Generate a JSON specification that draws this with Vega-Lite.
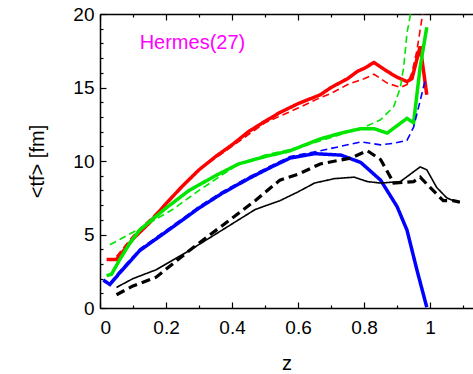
{
  "$schema": "https://vega.github.io/schema/vega-lite/v6.json",
  "width": 373,
  "height": 294,
  "autosize": {"type": "none"},
  "padding": {"left": 100, "top": 14, "right": 0, "bottom": 66},
  "background": "white",
  "config": {
    "view": {"stroke": null},
    "font": "Liberation Sans",
    "axis": {"grid": false, "domainColor": "#000", "domainWidth": 1.5, "tickColor": "#000", "tickWidth": 1.2, "labelColor": "#000", "titleColor": "#000", "labelFont": "Liberation Sans", "titleFont": "Liberation Sans", "labelFontSize": 19, "titleFontSize": 20, "titleFontWeight": "normal"}
  },
  "datasets": {
    "curves": [
      {"s": "red_solid", "z": 0.02, "t": 3.3}, {"s": "red_solid", "z": 0.05, "t": 3.3}, {"s": "red_solid", "z": 0.1, "t": 4.7}, {"s": "red_solid", "z": 0.15, "t": 5.8}, {"s": "red_solid", "z": 0.2, "t": 7.1}, {"s": "red_solid", "z": 0.25, "t": 8.3}, {"s": "red_solid", "z": 0.3, "t": 9.4}, {"s": "red_solid", "z": 0.35, "t": 10.3}, {"s": "red_solid", "z": 0.4, "t": 11.1}, {"s": "red_solid", "z": 0.45, "t": 12.0}, {"s": "red_solid", "z": 0.5, "t": 12.7}, {"s": "red_solid", "z": 0.545, "t": 13.3}, {"s": "red_solid", "z": 0.6, "t": 13.9}, {"s": "red_solid", "z": 0.667, "t": 14.5}, {"s": "red_solid", "z": 0.7, "t": 15.0}, {"s": "red_solid", "z": 0.75, "t": 15.6}, {"s": "red_solid", "z": 0.78, "t": 16.1}, {"s": "red_solid", "z": 0.8, "t": 16.3}, {"s": "red_solid", "z": 0.83, "t": 16.7}, {"s": "red_solid", "z": 0.87, "t": 16.1}, {"s": "red_solid", "z": 0.9, "t": 15.7}, {"s": "red_solid", "z": 0.93, "t": 15.4}, {"s": "red_solid", "z": 0.945, "t": 15.6}, {"s": "red_solid", "z": 0.97, "t": 17.8}, {"s": "red_solid", "z": 0.99, "t": 14.5},
      {"s": "red_dash", "z": 0.05, "t": 3.5}, {"s": "red_dash", "z": 0.1, "t": 4.9}, {"s": "red_dash", "z": 0.2, "t": 7.1}, {"s": "red_dash", "z": 0.3, "t": 9.4}, {"s": "red_dash", "z": 0.4, "t": 11.0}, {"s": "red_dash", "z": 0.5, "t": 12.6}, {"s": "red_dash", "z": 0.6, "t": 13.6}, {"s": "red_dash", "z": 0.667, "t": 14.3}, {"s": "red_dash", "z": 0.7, "t": 14.6}, {"s": "red_dash", "z": 0.75, "t": 15.2}, {"s": "red_dash", "z": 0.8, "t": 15.6}, {"s": "red_dash", "z": 0.83, "t": 15.9}, {"s": "red_dash", "z": 0.87, "t": 15.3}, {"s": "red_dash", "z": 0.91, "t": 15.0}, {"s": "red_dash", "z": 0.93, "t": 15.2}, {"s": "red_dash", "z": 0.945, "t": 16.0}, {"s": "red_dash", "z": 0.96, "t": 17.5}, {"s": "red_dash", "z": 0.976, "t": 19.8}, {"s": "red_dash", "z": 0.985, "t": 21},
      {"s": "green_solid", "z": 0.02, "t": 2.2}, {"s": "green_solid", "z": 0.035, "t": 2.3}, {"s": "green_solid", "z": 0.06, "t": 3.3}, {"s": "green_solid", "z": 0.09, "t": 4.4}, {"s": "green_solid", "z": 0.12, "t": 5.3}, {"s": "green_solid", "z": 0.2, "t": 6.8}, {"s": "green_solid", "z": 0.27, "t": 8.0}, {"s": "green_solid", "z": 0.35, "t": 9.0}, {"s": "green_solid", "z": 0.42, "t": 9.8}, {"s": "green_solid", "z": 0.5, "t": 10.3}, {"s": "green_solid", "z": 0.576, "t": 10.7}, {"s": "green_solid", "z": 0.667, "t": 11.5}, {"s": "green_solid", "z": 0.73, "t": 11.9}, {"s": "green_solid", "z": 0.79, "t": 12.2}, {"s": "green_solid", "z": 0.83, "t": 12.2}, {"s": "green_solid", "z": 0.87, "t": 11.9}, {"s": "green_solid", "z": 0.9, "t": 12.4}, {"s": "green_solid", "z": 0.93, "t": 12.9}, {"s": "green_solid", "z": 0.95, "t": 12.6}, {"s": "green_solid", "z": 0.97, "t": 16.4}, {"s": "green_solid", "z": 0.99, "t": 19.1},
      {"s": "green_dash", "z": 0.03, "t": 4.3}, {"s": "green_dash", "z": 0.12, "t": 5.4}, {"s": "green_dash", "z": 0.22, "t": 6.7}, {"s": "green_dash", "z": 0.3, "t": 8.0}, {"s": "green_dash", "z": 0.42, "t": 9.8}, {"s": "green_dash", "z": 0.5, "t": 10.4}, {"s": "green_dash", "z": 0.6, "t": 10.9}, {"s": "green_dash", "z": 0.7, "t": 11.6}, {"s": "green_dash", "z": 0.8, "t": 12.3}, {"s": "green_dash", "z": 0.85, "t": 12.8}, {"s": "green_dash", "z": 0.89, "t": 13.7}, {"s": "green_dash", "z": 0.91, "t": 15.0}, {"s": "green_dash", "z": 0.92, "t": 16.4}, {"s": "green_dash", "z": 0.93, "t": 18.7}, {"s": "green_dash", "z": 0.945, "t": 20.5},
      {"s": "blue_solid", "z": 0.01, "t": 1.9}, {"s": "blue_solid", "z": 0.03, "t": 1.6}, {"s": "blue_solid", "z": 0.06, "t": 2.4}, {"s": "blue_solid", "z": 0.12, "t": 3.9}, {"s": "blue_solid", "z": 0.22, "t": 5.5}, {"s": "blue_solid", "z": 0.3, "t": 6.8}, {"s": "blue_solid", "z": 0.37, "t": 7.8}, {"s": "blue_solid", "z": 0.45, "t": 8.8}, {"s": "blue_solid", "z": 0.52, "t": 9.6}, {"s": "blue_solid", "z": 0.576, "t": 10.2}, {"s": "blue_solid", "z": 0.65, "t": 10.5}, {"s": "blue_solid", "z": 0.73, "t": 10.4}, {"s": "blue_solid", "z": 0.79, "t": 9.9}, {"s": "blue_solid", "z": 0.85, "t": 8.7}, {"s": "blue_solid", "z": 0.9, "t": 6.9}, {"s": "blue_solid", "z": 0.93, "t": 5.3}, {"s": "blue_solid", "z": 0.96, "t": 2.6}, {"s": "blue_solid", "z": 0.99, "t": 0.05},
      {"s": "blue_dash", "z": 0.03, "t": 1.7}, {"s": "blue_dash", "z": 0.06, "t": 2.5}, {"s": "blue_dash", "z": 0.12, "t": 4.0}, {"s": "blue_dash", "z": 0.22, "t": 5.6}, {"s": "blue_dash", "z": 0.3, "t": 6.9}, {"s": "blue_dash", "z": 0.37, "t": 7.9}, {"s": "blue_dash", "z": 0.45, "t": 8.9}, {"s": "blue_dash", "z": 0.52, "t": 9.7}, {"s": "blue_dash", "z": 0.576, "t": 10.3}, {"s": "blue_dash", "z": 0.667, "t": 10.7}, {"s": "blue_dash", "z": 0.73, "t": 11.0}, {"s": "blue_dash", "z": 0.79, "t": 11.3}, {"s": "blue_dash", "z": 0.85, "t": 11.1}, {"s": "blue_dash", "z": 0.89, "t": 11.2}, {"s": "blue_dash", "z": 0.93, "t": 11.4}, {"s": "blue_dash", "z": 0.95, "t": 12.3}, {"s": "blue_dash", "z": 0.97, "t": 14.1}, {"s": "blue_dash", "z": 0.985, "t": 15.5},
      {"s": "black_solid", "z": 0.05, "t": 1.4}, {"s": "black_solid", "z": 0.1, "t": 2.0}, {"s": "black_solid", "z": 0.17, "t": 2.6}, {"s": "black_solid", "z": 0.27, "t": 3.9}, {"s": "black_solid", "z": 0.37, "t": 5.3}, {"s": "black_solid", "z": 0.47, "t": 6.7}, {"s": "black_solid", "z": 0.545, "t": 7.3}, {"s": "black_solid", "z": 0.6, "t": 7.9}, {"s": "black_solid", "z": 0.65, "t": 8.5}, {"s": "black_solid", "z": 0.71, "t": 8.8}, {"s": "black_solid", "z": 0.77, "t": 8.9}, {"s": "black_solid", "z": 0.81, "t": 8.6}, {"s": "black_solid", "z": 0.85, "t": 8.5}, {"s": "black_solid", "z": 0.91, "t": 8.6}, {"s": "black_solid", "z": 0.97, "t": 9.6}, {"s": "black_solid", "z": 0.99, "t": 9.4}, {"s": "black_solid", "z": 1.02, "t": 8.2}, {"s": "black_solid", "z": 1.05, "t": 7.5}, {"s": "black_solid", "z": 1.07, "t": 7.3}, {"s": "black_solid", "z": 1.09, "t": 7.2},
      {"s": "black_dash", "z": 0.05, "t": 0.9}, {"s": "black_dash", "z": 0.1, "t": 1.5}, {"s": "black_dash", "z": 0.17, "t": 2.1}, {"s": "black_dash", "z": 0.27, "t": 3.9}, {"s": "black_dash", "z": 0.37, "t": 5.6}, {"s": "black_dash", "z": 0.47, "t": 7.3}, {"s": "black_dash", "z": 0.545, "t": 8.7}, {"s": "black_dash", "z": 0.6, "t": 9.1}, {"s": "black_dash", "z": 0.667, "t": 9.8}, {"s": "black_dash", "z": 0.76, "t": 10.2}, {"s": "black_dash", "z": 0.81, "t": 10.7}, {"s": "black_dash", "z": 0.85, "t": 10.1}, {"s": "black_dash", "z": 0.89, "t": 8.5}, {"s": "black_dash", "z": 0.95, "t": 8.6}, {"s": "black_dash", "z": 0.97, "t": 8.9}, {"s": "black_dash", "z": 1.0, "t": 8.2}, {"s": "black_dash", "z": 1.04, "t": 7.3}, {"s": "black_dash", "z": 1.07, "t": 7.3}, {"s": "black_dash", "z": 1.09, "t": 7.2}
    ],
    "labels": [{"z": 0.28, "t": 18.0, "label": "Hermes(27)"}]
  },
  "layer": [
    {
      "data": {"name": "curves"},
      "mark": {"type": "line", "clip": true, "strokeCap": "butt"},
      "encoding": {
        "x": {"field": "z", "type": "quantitative", "scale": {"domain": [0, 1.13], "nice": false, "zero": false},
          "axis": {"orient": "bottom", "title": "z", "values": [0, 0.1, 0.2, 0.3, 0.4, 0.5, 0.6, 0.7, 0.8, 0.9, 1, 1.1], "format": "~g",
            "labelExpr": "round(datum.value*10) % 2 === 0 ? datum.label : ''",
            "tickSize": {"condition": {"test": "round(datum.value*10) % 2 === 0", "value": -6}, "value": -3},
            "labelPadding": 16, "titlePadding": 16}},
        "y": {"field": "t", "type": "quantitative", "scale": {"domain": [0, 20], "nice": false},
          "axis": {"orient": "left", "title": "<tf> [fm]", "values": [0,1,2,3,4,5,6,7,8,9,10,11,12,13,14,15,16,17,18,19,20],
            "labelExpr": "datum.value % 5 === 0 ? datum.label : ''",
            "tickSize": {"condition": {"test": "datum.value % 5 === 0", "value": -6}, "value": -3},
            "labelPadding": 12, "titlePadding": 25}},
        "color": {"field": "s", "type": "nominal", "legend": null,
          "scale": {"domain": ["red_solid", "red_dash", "green_solid", "green_dash", "blue_solid", "blue_dash", "black_solid", "black_dash"],
            "range": ["#ff0000", "#ff0000", "#00e600", "#00e600", "#0000ff", "#0000ff", "#000000", "#000000"]}},
        "strokeDash": {"field": "s", "type": "nominal", "legend": null,
          "scale": {"domain": ["red_solid", "red_dash", "green_solid", "green_dash", "blue_solid", "blue_dash", "black_solid", "black_dash"],
            "range": [[1, 0], [7, 4], [1, 0], [7, 4], [1, 0], [7, 4], [1, 0], [9, 5]]}},
        "strokeWidth": {"field": "s", "type": "nominal", "legend": null,
          "scale": {"type": "ordinal", "domain": ["red_solid", "red_dash", "green_solid", "green_dash", "blue_solid", "blue_dash", "black_solid", "black_dash"],
            "range": [3.5, 1.6, 3.5, 1.6, 3.5, 1.6, 1.6, 3.2]}}
      }
    },
    {
      "data": {"name": "labels"},
      "mark": {"type": "text", "color": "#ff00ff", "fontSize": 20, "font": "Liberation Sans", "align": "center", "baseline": "middle"},
      "encoding": {
        "x": {"field": "z", "type": "quantitative",
          "axis": {"orient": "top", "title": null, "labels": false, "values": [0, 0.1, 0.2, 0.3, 0.4, 0.5, 0.6, 0.7, 0.8, 0.9, 1, 1.1],
            "tickSize": {"condition": {"test": "round(datum.value*10) % 2 === 0", "value": -6}, "value": -3}}},
        "y": {"field": "t", "type": "quantitative", "axis": null},
        "text": {"field": "label"}
      }
    }
  ],
  "resolve": {"axis": {"x": "independent", "y": "independent"}}
}
